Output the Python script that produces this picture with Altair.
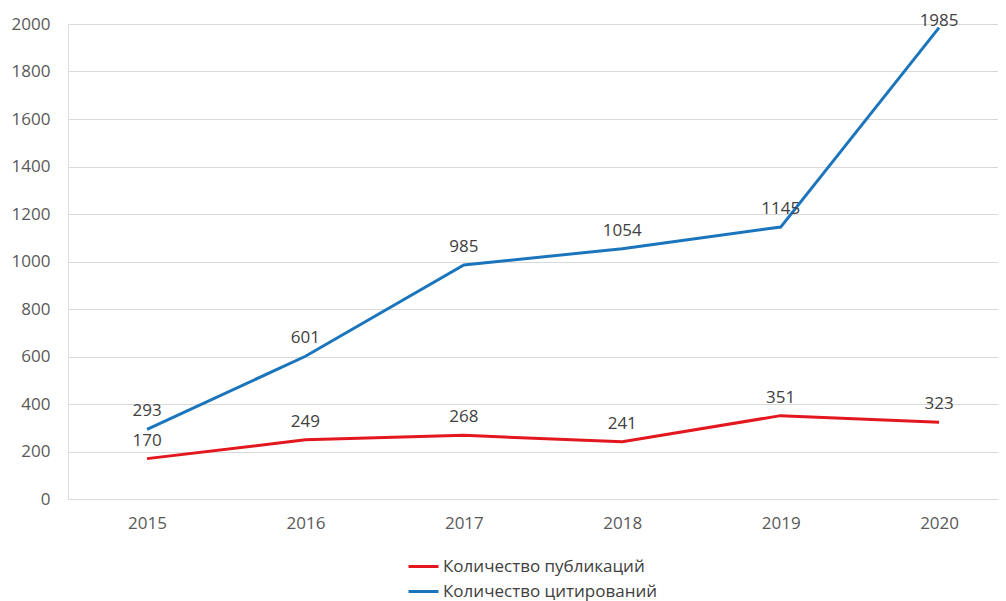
import altair as alt
import pandas as pd

years = [2015, 2016, 2017, 2018, 2019, 2020]
publications = [170, 249, 268, 241, 351, 323]
citations = [293, 601, 985, 1054, 1145, 1985]
series_names = ["Количество публикаций", "Количество цитирований"]
series_colors = ["#E3171E", "#1B75BC"]

rows = []
for y, v in zip(years, publications):
    rows.append({"year": y, "value": v, "series": series_names[0]})
for y, v in zip(years, citations):
    rows.append({"year": y, "value": v, "series": series_names[1]})
df = pd.DataFrame(rows)

FONT = "Open Sans"
FS = 17

x = alt.X("year:Q", title=None,
          scale=alt.Scale(domain=[2014.501, 2020.372], nice=False, zero=False),
          axis=alt.Axis(values=years, format="d", labelAngle=0, ticks=False,
                        domain=False, grid=False,
                        labelFontSize=FS, labelColor="#595959", labelPadding=16,
                        labelFont=FONT))
y = alt.Y("value:Q", title=None,
          scale=alt.Scale(domain=[0, 2000], nice=False),
          axis=alt.Axis(values=list(range(0, 2001, 200)), format="d",
                        ticks=False, domain=False,
                        grid=True, gridColor="#D9D9D9", gridWidth=1,
                        labelFontSize=FS, labelColor="#595959", labelPadding=18,
                        labelFont=FONT))
color = alt.Color("series:N", title=None,
                  scale=alt.Scale(domain=series_names, range=series_colors),
                  legend=alt.Legend(orient="none", legendX=339, legendY=526,
                                    direction="vertical", symbolType="stroke",
                                    symbolSize=900, symbolStrokeWidth=3,
                                    labelFontSize=FS, labelColor="#404040",
                                    labelFont=FONT, labelOffset=3, rowPadding=-1,
                                    padding=0, labelLimit=400))

base = alt.Chart(df)
lines = base.mark_line(strokeWidth=3).encode(x=x, y=y, color=color,
                                             order=alt.Order("year:Q"))

labeled = base.transform_joinaggregate(top="max(value)")
labels = labeled.transform_filter("datum.value < datum.top").mark_text(
    dy=-13, baseline="alphabetic", fontSize=FS, color="#404040", font=FONT
).encode(x=x, y=y, text=alt.Text("value:Q"))
top_label = labeled.transform_filter("datum.value == datum.top").mark_text(
    dy=-2, baseline="alphabetic", fontSize=FS, color="#404040", font=FONT
).encode(x=x, y=y, text=alt.Text("value:Q"))

chart = alt.layer(lines, labels, top_label).properties(
    width=930, height=475,
    autosize=alt.AutoSizeParams(type="none"),
    padding={"left": 60, "top": 16, "right": 0, "bottom": 105},
).configure_view(stroke=None).configure(font=FONT, background="white")

chart.save("out.html", embed_options={"renderer": "svg", "actions": False})
